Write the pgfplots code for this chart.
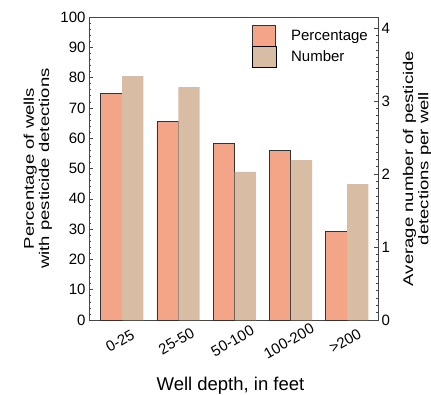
\documentclass[border=0pt]{standalone}
\usepackage{pgfplots}
\pgfplotsset{compat=1.18}
\usepackage{fontspec}
\setmainfont{Liberation Sans}
\definecolor{pct}{RGB}{244,165,135}
\definecolor{num}{RGB}{216,188,163}
\definecolor{frame}{RGB}{70,70,70}
\begin{document}
\begin{tikzpicture}
\pgfplotsset{
  common/.style={
    scale only axis, width=289pt, height=303pt,
    xmin=-0.587, xmax=4.55,
    axis line style={frame, line width=0.9pt},
    tick style={frame, line width=0.6pt},
    major tick length=4pt, minor tick length=2.5pt,
    tick align=inside,
    ticklabel style={font=\fontsize{15}{18}\selectfont},
    label style={font=\fontsize{18.5}{20}\selectfont},
    /pgf/number format/assume math mode=true,
  }
}
\begin{axis}[common,
  ymin=0, ymax=100,
  ytick={0,10,...,100}, minor y tick num=4,
  ytick pos=left,
  xtick={0,1,2,3,4},
  xticklabels={0-25,25-50,50-100,100-200,>200},
  xtick style={draw=none},
  xticklabel style={rotate=30, anchor=center, xshift=-12.2pt, yshift=-17.2pt},
  ylabel={\scalebox{1}[0.76]{\begin{tabular}{@{}c@{}}Percentage of wells\\with pesticide detections\end{tabular}}},
  xlabel={Well depth, in feet},
  xlabel style={inner sep=0pt, yshift=-12.5pt, xshift=-3pt},
  legend style={draw=none, fill=none, at={(0.562,0.974)}, anchor=north west,
    inner sep=0pt, row sep=0pt, font=\fontsize{15}{18}\selectfont,
    /tikz/every even column/.append style={column sep=0pt}},
  legend cell align=left,
  legend image code/.code={\draw[#1] (0pt,-10.3pt) rectangle (23.7pt,10.3pt);},
]
\addplot[ybar, bar width=21.3pt, bar shift=-10.65pt, fill=pct, draw=black!80, line width=0.8pt]
  coordinates {(0,74.8) (1,65.4) (2,58.3) (3,55.9) (4,29.1)};
\addlegendentry{\hspace{13pt}Percentage}
\addlegendimage{fill=num, draw=none}
\addlegendentry{\hspace{13pt}Number}
\end{axis}
\begin{axis}[common,
  ymin=0, ymax=4.15,
  ytick={0,1,2,3,4}, minor y tick num=9,
  axis y line*=right, axis x line=none,
  ylabel={\scalebox{1}[0.76]{\begin{tabular}{@{}c@{}}Average number of pesticide\\detections per well\end{tabular}}},
  ylabel style={inner sep=0pt, yshift=-9pt},
]
\addplot[ybar, bar width=21.3pt, bar shift=10.65pt, fill=num, draw=none]
  coordinates {(0,3.34) (1,3.19) (2,2.03) (3,2.19) (4,1.86)};
\end{axis}
\pgfresetboundingbox
\path (-89pt,-74pt) rectangle (342pt,320pt);
\end{tikzpicture}
\end{document}
